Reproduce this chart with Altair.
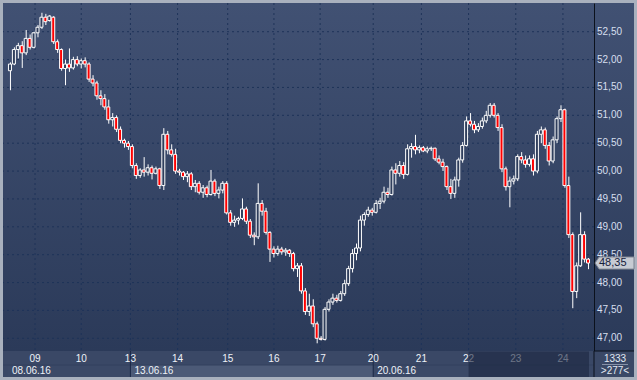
import altair as alt
import pandas as pd

# ---------------- data ----------------
opens = [51.80, 51.92, 52.18, 52.25, 52.12, 52.38, 52.22, 52.48, 52.58, 52.76,
         52.70, 52.76, 52.32, 52.18, 51.84, 51.92, 51.85, 52.00, 51.92, 51.98,
         51.92, 51.65, 51.58, 51.35, 51.30, 51.15, 50.92, 50.96, 50.75, 50.55,
         50.50, 50.44, 50.10, 49.92, 50.02, 49.98, 50.06, 49.96, 50.04, 49.74,
         50.66, 50.38, 50.30, 50.00, 49.98, 49.90, 49.95, 49.72, 49.78, 49.62,
         49.70, 49.58, 49.82, 49.60, 49.66, 49.78, 49.25, 49.08, 49.12, 49.15,
         49.32, 49.10, 48.85, 48.82, 49.42, 49.28, 48.90, 48.60, 48.52, 48.60,
         48.55, 48.58, 48.52, 48.25, 48.30, 47.85, 47.48, 47.58, 47.26, 47.00,
         46.98, 47.52, 47.65, 47.72, 47.68, 47.80, 47.98, 48.25, 48.52, 48.62,
         49.12, 49.22, 49.30, 49.26, 49.42, 49.46, 49.62, 49.58, 50.02, 49.96,
         50.10, 49.94, 50.40, 50.44, 50.38, 50.42, 50.36, 50.40, 50.41, 50.22,
         50.16, 50.08, 49.72, 49.60, 49.84, 50.20, 50.46, 50.90, 50.84, 50.74,
         50.80, 50.90, 51.00, 51.18, 51.00, 50.78, 50.04, 49.72, 49.82, 49.86,
         50.26, 50.20, 50.12, 50.22, 50.00, 50.66, 50.74, 50.46, 50.18, 50.56,
         50.94, 51.10, 49.74, 48.86, 47.84, 48.30, 48.86, 48.42]
highs = [51.95, 52.22, 52.30, 52.33, 52.53, 52.45, 52.50, 52.62, 52.84, 52.82,
         52.80, 52.78, 52.36, 52.20, 52.00, 52.20, 52.05, 52.06, 52.02, 52.04,
         51.95, 51.72, 51.62, 51.45, 51.38, 51.28, 51.04, 51.00, 50.80, 50.58,
         50.54, 50.48, 50.14, 50.05, 50.25, 50.12, 50.10, 50.08, 50.06, 50.77,
         50.72, 50.48, 50.40, 50.04, 50.00, 50.00, 49.98, 49.84, 49.82, 49.75,
         49.74, 50.02, 49.86, 49.72, 49.82, 49.82, 49.30, 49.20, 49.18, 49.51,
         49.36, 49.14, 48.90, 49.78, 49.48, 49.34, 48.92, 48.65, 48.66, 48.64,
         48.62, 48.60, 48.55, 48.35, 48.35, 47.90, 47.80, 47.70, 47.30, 47.04,
         47.56, 47.70, 47.80, 47.78, 47.85, 48.05, 48.30, 48.60, 48.70, 49.20,
         49.26, 49.36, 49.34, 49.48, 49.52, 49.72, 49.70, 50.08, 50.14, 50.18,
         50.16, 50.48, 50.50, 50.65, 50.46, 50.45, 50.44, 50.44, 50.42, 50.28,
         50.22, 50.10, 49.86, 49.90, 50.24, 50.52, 50.98, 51.04, 50.90, 50.86,
         50.96, 51.08, 51.22, 51.22, 51.04, 50.84, 50.08, 49.90, 49.92, 50.30,
         50.34, 50.28, 50.28, 50.30, 50.72, 50.80, 50.78, 50.52, 50.62, 50.98,
         51.18, 51.12, 49.90, 48.90, 48.36, 49.26, 48.92, 48.44]
lows = [51.45, 51.90, 52.02, 51.85, 52.08, 52.18, 52.20, 52.40, 52.55, 52.62,
        52.68, 52.28, 52.12, 51.80, 51.54, 51.78, 51.82, 51.88, 51.84, 51.86,
        51.60, 51.52, 51.28, 51.18, 51.10, 50.85, 50.80, 50.70, 50.50, 50.42,
        50.38, 50.05, 49.86, 49.88, 49.90, 49.92, 49.85, 49.94, 49.68, 49.66,
        50.30, 50.26, 49.95, 49.92, 49.84, 49.80, 49.66, 49.62, 49.58, 49.52,
        49.53, 49.56, 49.55, 49.51, 49.60, 49.22, 49.02, 49.00, 49.04, 49.12,
        49.05, 48.80, 48.67, 48.78, 49.20, 48.86, 48.37, 48.45, 48.48, 48.50,
        48.48, 48.46, 48.20, 48.10, 47.80, 47.42, 47.40, 47.20, 46.91, 46.96,
        46.96, 47.48, 47.60, 47.64, 47.66, 47.76, 47.94, 48.18, 48.40, 48.56,
        49.02, 49.18, 49.20, 49.24, 49.32, 49.42, 49.52, 49.56, 49.76, 49.90,
        49.86, 49.92, 50.24, 50.30, 50.32, 50.34, 50.32, 50.36, 50.18, 50.12,
        50.00, 49.66, 49.50, 49.52, 49.72, 50.15, 50.44, 50.80, 50.68, 50.70,
        50.76, 50.86, 50.96, 50.96, 50.72, 49.98, 49.65, 49.35, 49.76, 49.82,
        50.14, 50.06, 50.08, 49.92, 49.96, 50.50, 50.40, 50.10, 50.14, 50.50,
        50.88, 49.70, 48.80, 47.54, 47.72, 48.28, 48.36, 48.24]
closes = [51.92, 52.18, 52.25, 52.12, 52.38, 52.22, 52.48, 52.58, 52.76, 52.68,
          52.78, 52.32, 52.18, 51.84, 51.92, 51.85, 52.00, 51.92, 51.98, 51.92,
          51.65, 51.58, 51.35, 51.30, 51.15, 50.92, 50.96, 50.75, 50.55, 50.50,
          50.44, 50.10, 49.92, 50.02, 49.98, 50.06, 49.96, 50.04, 49.74, 50.66,
          50.38, 50.30, 50.00, 49.98, 49.90, 49.95, 49.72, 49.78, 49.62, 49.70,
          49.58, 49.82, 49.60, 49.66, 49.78, 49.25, 49.08, 49.12, 49.15, 49.32,
          49.10, 48.85, 48.82, 49.42, 49.28, 48.90, 48.60, 48.52, 48.60, 48.55,
          48.58, 48.52, 48.25, 48.30, 47.85, 47.48, 47.58, 47.26, 47.00, 46.98,
          47.52, 47.65, 47.72, 47.68, 47.80, 47.98, 48.25, 48.52, 48.62, 49.12,
          49.22, 49.30, 49.26, 49.42, 49.46, 49.62, 49.58, 50.02, 49.96, 50.10,
          49.94, 50.40, 50.44, 50.38, 50.42, 50.36, 50.40, 50.41, 50.22, 50.16,
          50.08, 49.72, 49.60, 49.84, 50.20, 50.46, 50.90, 50.84, 50.74, 50.80,
          50.90, 51.00, 51.18, 51.00, 50.78, 50.04, 49.72, 49.82, 49.86, 50.26,
          50.20, 50.12, 50.22, 50.00, 50.66, 50.74, 50.46, 50.18, 50.56, 50.94,
          51.10, 49.74, 48.86, 47.84, 48.30, 48.86, 48.42, 48.35]

day_pos = [6.375, 18.125, 30.625, 42.625, 55.375, 67.125, 78.875, 92.375,
           104.625, 116.625, 128.625, 140.625]
day_labels = ["09", "10", "13", "14", "15", "16", "17", "20", "21", "22", "23", "24"]
week_start = [-0.5, 30.625, 92.375]
week_end = [30.625, 92.375, 147.25]
week_labels = ["08.06.16", "13.06.16", "20.06.16"]
week_shade = ["dark", "light", "dark"]
price_ticks = [47.0, 47.5, 48.0, 48.5, 49.0, 49.5, 50.0, 50.5, 51.0, 51.5, 52.0, 52.5]
info_top = "1333"
info_bottom = ">277<"

# ---------------- tables ----------------
n = len(closes)
df = pd.DataFrame({
    "t": list(range(n)),
    "open": opens, "high": highs, "low": lows, "close": closes,
})
df["dir"] = ["down" if c < o else "up" for o, c in zip(opens, closes)]

days_df = pd.DataFrame({"pos": day_pos, "label": day_labels})
weeks_df = pd.DataFrame({"start": week_start, "end": week_end,
                         "label": week_labels, "shade": week_shade})
ticks_df = pd.DataFrame({"p": price_ticks})
last_df = df.tail(1)
future_df = pd.DataFrame({"start": [day_pos[9]], "end": [week_end[-1]]})
one = pd.DataFrame({"a": [0]})

W, H = 591, 348
xs = alt.Scale(domain=[week_start[0], week_end[-1]], nice=False, zero=False)
ys = alt.Scale(domain=[46.772, 53.015], nice=False, zero=False)
FONT = "Liberation Sans"

grad = alt.LinearGradient(
    gradient="linear",
    stops=[alt.GradientStop(color="#415173", offset=0),
           alt.GradientStop(color="#2b3a59", offset=1)],
    x1=0, x2=0, y1=0, y2=1)

bg_right = alt.Chart(one).mark_rect(color=grad).encode(
    x=alt.value(592), x2=alt.value(631), y=alt.value(0), y2=alt.value(H))
bg_plot = alt.Chart(one).mark_rect(color=grad).encode(
    x=alt.value(0), x2=alt.value(W), y=alt.value(0), y2=alt.value(H))
strip = alt.Chart(one).mark_rect(color="#3a4866").encode(
    x=alt.value(0), x2=alt.value(631), y=alt.value(H), y2=alt.value(374))

week_rects = alt.Chart(weeks_df).mark_rect().encode(
    x=alt.X("start:Q", scale=xs, axis=None), x2="end:Q",
    y=alt.value(362), y2=alt.value(374),
    color=alt.Color("shade:N", scale=alt.Scale(domain=["dark", "light"],
                                               range=["#3b4967", "#4c5a77"]), legend=None))
row_sep = alt.Chart(one).mark_rule(color="#33415e").encode(
    x=alt.value(0), x2=alt.value(W), y=alt.value(362))
week_lines = alt.Chart(weeks_df).transform_filter("datum.start > 0").mark_rule(
    color="#1a2846", strokeWidth=1).encode(
    x=alt.X("start:Q", scale=xs, axis=None), y=alt.value(H), y2=alt.value(374))

hgrid = alt.Chart(ticks_df).mark_rule(color="#1e3359", strokeDash=[2, 3]).encode(
    y=alt.Y("p:Q", scale=ys, axis=None))
vgrid = alt.Chart(days_df).mark_rule(color="#1e3359", strokeDash=[2, 3]).encode(
    x=alt.X("pos:Q", scale=xs, axis=None), y=alt.value(0), y2=alt.value(H))

wicks = alt.Chart(df).mark_rule(color="white", strokeWidth=1, xOffset=0.5).encode(
    x=alt.X("t:Q", scale=xs, axis=None),
    y=alt.Y("low:Q", scale=ys, axis=None), y2="high:Q")
bodies = alt.Chart(df).mark_bar(size=3, stroke="white", strokeWidth=1).encode(
    x=alt.X("t:Q", scale=xs, axis=None),
    y=alt.Y("open:Q", scale=ys, axis=None), y2="close:Q",
    fill=alt.Fill("dir:N", scale=alt.Scale(domain=["up", "down"],
                                           range=["#2f3e5c", "#ff0000"]), legend=None))

ylabels = alt.Chart(ticks_df).transform_calculate(
    lab="replace(format(datum.p, '.2f'), '.', ',')").mark_text(
    align="left", baseline="middle", font=FONT, fontSize=10, color="#d6dfee").encode(
    x=alt.value(594), y=alt.Y("p:Q", scale=ys, axis=None), text="lab:N")

day_text = alt.Chart(days_df).mark_text(
    baseline="middle", font=FONT, fontSize=10, color="#eef2f8").encode(
    x=alt.X("pos:Q", scale=xs, axis=None), y=alt.value(355.5), text="label:N")
week_text = alt.Chart(weeks_df).mark_text(
    align="left", baseline="middle", dx=4, font=FONT, fontSize=10, color="#eef2f8").encode(
    x=alt.X("start:Q", scale=xs, axis=None), y=alt.value(368), text="label:N")

future = alt.Chart(future_df).mark_rect(color="#1c2640", opacity=0.62).encode(
    x=alt.X("start:Q", scale=xs, axis=None), x2="end:Q",
    y=alt.value(H + 0.5), y2=alt.value(374))

sep_h = alt.Chart(one).mark_rule(color="#0b111c").encode(
    x=alt.value(W), x2=alt.value(631), y=alt.value(H))
sep_v = alt.Chart(one).mark_rule(color="#0b111c").encode(
    x=alt.value(W), y=alt.value(H), y2=alt.value(374))

info1 = alt.Chart(one).mark_text(baseline="middle", font=FONT, fontSize=10,
                                 color="#e2e8f2", text=info_top).encode(
    x=alt.value(612), y=alt.value(355.5))
info_line = alt.Chart(one).mark_rule(color="#8792a8").encode(
    x=alt.value(599), x2=alt.value(625), y=alt.value(361.5))
info2 = alt.Chart(one).mark_text(baseline="middle", font=FONT, fontSize=10,
                                 color="#e2e8f2", text=info_bottom).encode(
    x=alt.value(612), y=alt.value(368))

marker_path = "M -1 0 L -0.79 -0.31 L 1 -0.31 L 1 0.31 L -0.79 0.31 Z"
marker = alt.Chart(last_df).mark_point(
    shape=marker_path, size=1521, filled=True, fill="#c7cbd3", stroke="#7d8390",
    strokeWidth=1, opacity=1).encode(
    x=alt.value(611.5), y=alt.Y("close:Q", scale=ys, axis=None))
marker_text = alt.Chart(last_df).transform_calculate(
    lab="replace(format(datum.close, '.2f'), '.', ',')").mark_text(
    align="left", baseline="middle", font=FONT, fontSize=11, color="#15203a").encode(
    x=alt.value(596), y=alt.Y("close:Q", scale=ys, axis=None), text="lab:N")

chart = alt.layer(
    bg_right, bg_plot, strip, week_rects, row_sep, week_lines,
    hgrid, vgrid, wicks, bodies, ylabels, day_text, week_text, future,
    sep_h, sep_v, info1, info_line, info2, marker, marker_text
).properties(
    width=W, height=H,
    background="#a9b1be",
    padding={"left": 3, "top": 3, "right": 43, "bottom": 29},
    autosize=alt.AutoSizeParams(type="none"),
).configure_view(stroke="#0b111c", strokeWidth=1)

chart.save("out.html", embed_options={"renderer": "svg", "actions": False})
